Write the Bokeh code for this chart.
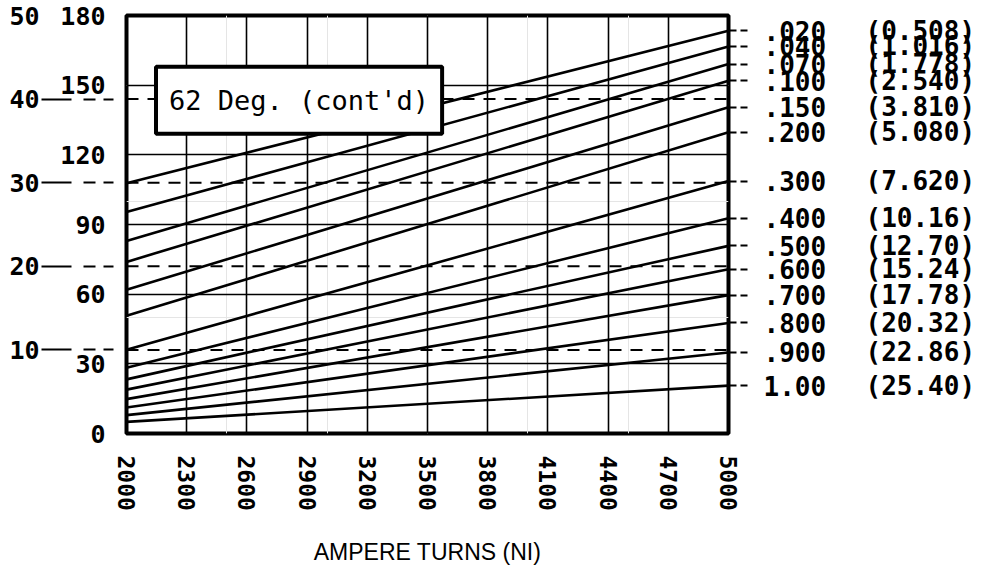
from bokeh.plotting import figure
from bokeh.models import Range1d, LinearAxis, FixedTicker, Span, Label, Grid
from bokeh.embed import file_html
from bokeh.resources import INLINE

# ---------------- data ----------------
ampere_turns = [2000, 5000]
gap_in = [".020", ".040", ".070", ".100", ".150", ".200", ".300",
          ".400", ".500", ".600", ".700", ".800", ".900", "1.00"]
gap_mm = ["(0.508)", "(1.016)", "(1.778)", "(2.540)", "(3.810)", "(5.080)", "(7.620)",
          "(10.16)", "(12.70)", "(15.24)", "(17.78)", "(20.32)", "(22.86)", "(25.40)"]
force_at_2000 = [107.8, 95.4, 82.9, 73.9, 61.9, 50.7, 36.1,
                 28.3, 23.3, 18.9, 14.8, 11.2, 7.9, 5.0]
force_at_5000 = [173.4, 166.7, 159.1, 151.9, 140.5, 129.7, 108.7,
                 92.7, 80.8, 70.7, 59.6, 47.6, 34.9, 20.6]
x_ticks = [2000, 2300, 2600, 2900, 3200, 3500, 3800, 4100, 4400, 4700, 5000]
inner_ticks = [0, 30, 60, 90, 120, 150, 180]
outer_labels = [10, 20, 30, 40, 50]
outer_lines = [10, 20, 30, 40]
chart_title = "62 Deg. (cont'd)"
x_label = "AMPERE TURNS (NI)"

MONO = "DejaVu Sans Mono"

p = figure(frame_width=602, frame_height=418,
           x_range=Range1d(2000, 5000), y_range=Range1d(0, 180),
           x_axis_location=None, y_axis_location=None,
           min_border_left=126, min_border_right=253,
           min_border_top=15, min_border_bottom=133,
           output_backend="svg", toolbar_location=None)
p.extra_y_ranges = {"outer": Range1d(0, 50)}
p.background_fill_color = "white"
p.border_fill_color = "white"
p.outline_line_color = "black"
p.outline_line_width = 4

# grid
p.add_layout(Grid(dimension=0, ticker=FixedTicker(ticks=x_ticks),
                  grid_line_color="black", grid_line_width=1.6))
p.add_layout(Grid(dimension=1, ticker=FixedTicker(ticks=inner_ticks),
                  grid_line_color="black", grid_line_width=1.6))

# dashed reference lines of the outer scale
for v in outer_lines:
    p.add_layout(Span(location=v, dimension="width", y_range_name="outer",
                      line_color="black", line_width=2, line_dash="12 9"))

# force curves
p.multi_line(xs=[ampere_turns] * len(gap_in),
             ys=[[a, b] for a, b in zip(force_at_2000, force_at_5000)],
             line_color="black", line_width=2.6)

def style_labels(ax, size="25px"):
    ax.major_label_text_font = MONO
    ax.major_label_text_font_style = "bold"
    ax.major_label_text_font_size = size
    ax.major_label_text_color = "black"
    ax.axis_line_color = None
    ax.minor_tick_line_color = None

# inner left axis (0-180)
ax_in = LinearAxis(ticker=FixedTicker(ticks=inner_ticks))
style_labels(ax_in)
ax_in.major_tick_line_color = None
ax_in.major_tick_out = 0
ax_in.major_tick_in = 0
ax_in.major_label_standoff = 21
p.add_layout(ax_in, "left")

# outer left axis (0-50): labels on major ticks, lead lines on minor ticks
ax_out = LinearAxis(y_range_name="outer",
                    ticker=FixedTicker(ticks=outer_labels, minor_ticks=outer_lines))
style_labels(ax_out)
ax_out.major_tick_line_color = None
ax_out.major_tick_out = 16
ax_out.major_tick_in = 0
ax_out.minor_tick_line_color = "black"
ax_out.minor_tick_line_width = 2
ax_out.minor_tick_line_dash = "30 12 12 8 10 12"
ax_out.minor_tick_out = 16
ax_out.minor_tick_in = 66
ax_out.major_label_standoff = 2
p.add_layout(ax_out, "left")

# right axes: gap in inches and (mm)
ax_r1 = LinearAxis(ticker=FixedTicker(ticks=force_at_5000),
                   major_label_overrides=dict(zip(force_at_5000, gap_in)))
style_labels(ax_r1, "26px")
ax_r1.major_tick_line_color = "black"
ax_r1.major_tick_line_width = 2
ax_r1.major_tick_line_dash = "7 4"
ax_r1.major_tick_out = 19
ax_r1.major_tick_in = 0
ax_r1.major_label_standoff = 16
p.add_layout(ax_r1, "right")

ax_r2 = LinearAxis(ticker=FixedTicker(ticks=force_at_5000),
                   major_label_overrides=dict(zip(force_at_5000, gap_mm)))
style_labels(ax_r2, "26px")
ax_r2.major_tick_line_color = None
ax_r2.major_tick_out = 0
ax_r2.major_tick_in = 0
ax_r2.major_label_standoff = 36
p.add_layout(ax_r2, "right")

# bottom axis
ax_x = LinearAxis(ticker=FixedTicker(ticks=x_ticks), axis_label=x_label)
style_labels(ax_x, "23px")
ax_x.major_tick_line_color = None
ax_x.major_tick_out = 0
ax_x.major_tick_in = 0
ax_x.major_label_standoff = 22
ax_x.major_label_orientation = "vertical"
ax_x.axis_label_text_font = "Liberation Sans"
ax_x.axis_label_text_font_style = "normal"
ax_x.axis_label_text_font_size = "23px"
ax_x.axis_label_text_color = "black"
ax_x.axis_label_standoff = 25
p.add_layout(ax_x, "below")

# boxed title
p.add_layout(Label(x=2860, y=143.5, text=chart_title, text_align="center",
                   text_baseline="middle", text_font=MONO, text_font_size="27px",
                   text_color="black", background_fill_color="white",
                   background_fill_alpha=1.0, border_line_color="black",
                   border_line_width=4,
                   padding=dict(left=13, right=13, top=18, bottom=18)))

open("out.html", "w").write(file_html(p, INLINE))
